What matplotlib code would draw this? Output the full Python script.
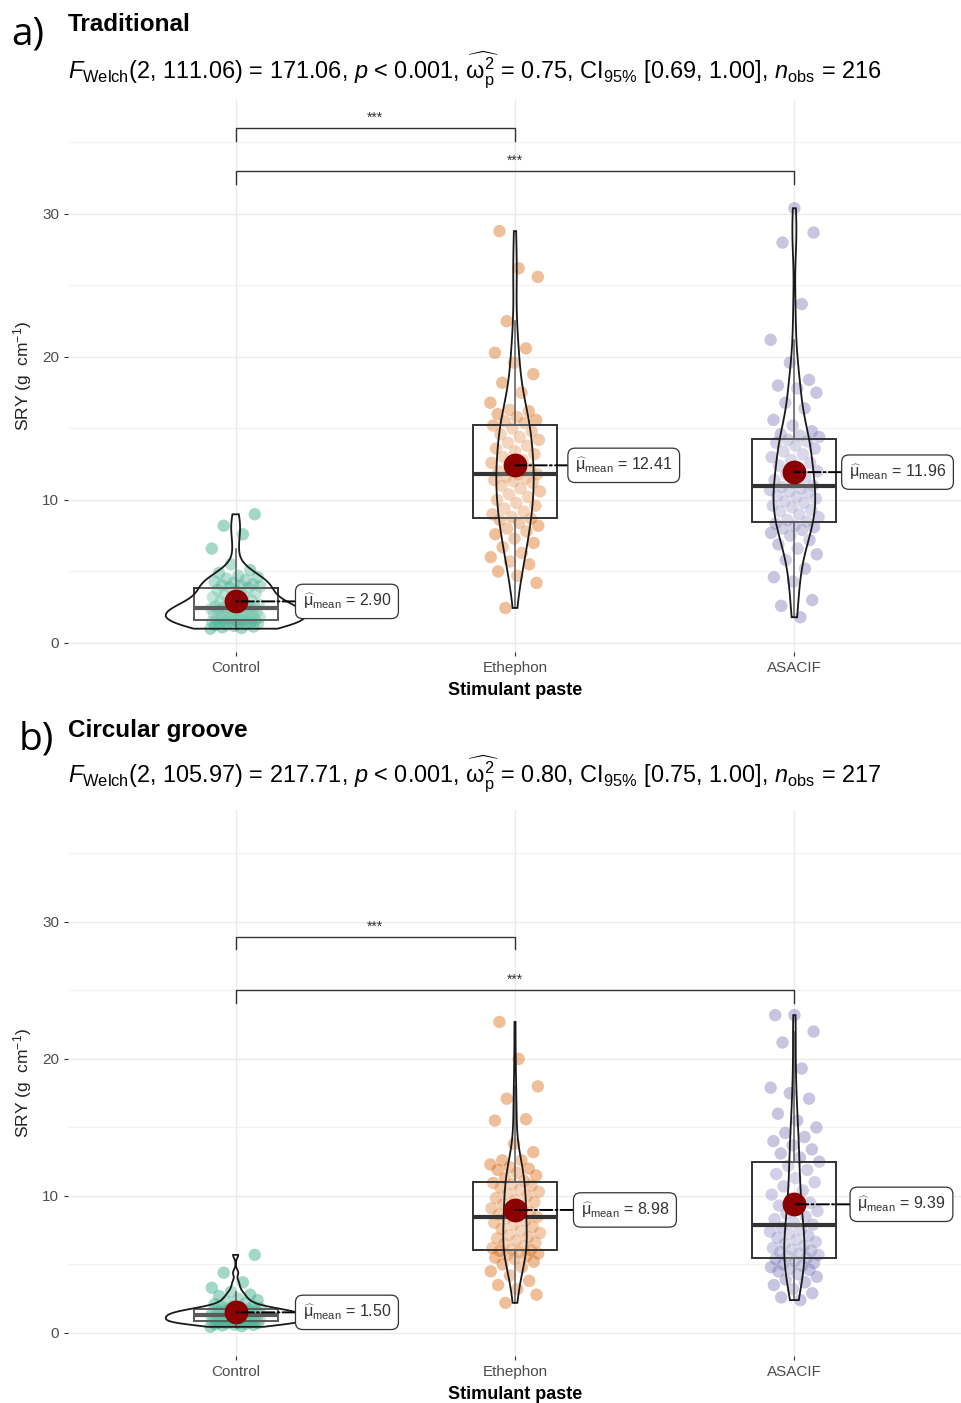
import matplotlib
matplotlib.use("Agg")
import matplotlib.pyplot as plt
import numpy as np

plt.rcParams['font.family'] = ['Liberation Sans', 'DejaVu Sans']
plt.rcParams['mathtext.fontset'] = 'custom'
plt.rcParams['mathtext.rm'] = 'Liberation Sans'
plt.rcParams['mathtext.it'] = 'Liberation Sans:italic'
plt.rcParams['mathtext.bf'] = 'Liberation Sans:bold'

# Grupos
grupos = ["Control", "Ethephon", "ASACIF"]
colores = ["#1B9E77", "#D95F02", "#7570B3"]

# a) Tradicional - SRY (g cm-1)
control_a = [1.0, 1.05, 1.1, 1.15, 1.2, 1.25, 1.3, 1.3, 1.35, 1.4, 1.4, 1.45, 1.5, 1.5, 1.55, 1.55, 1.6, 1.6,
             1.65, 1.7, 1.75, 1.8, 1.85, 1.9, 1.95, 2.0, 2.05, 2.1, 2.15, 2.2, 2.25, 2.3, 2.35, 2.4, 2.4, 2.45,
             2.45, 2.5, 2.5, 2.55, 2.6, 2.65, 2.7, 2.8, 2.9, 3.0, 3.1, 3.2, 3.3, 3.4, 3.5, 3.6, 3.7, 3.85,
             3.9, 3.95, 4.0, 4.05, 4.1, 4.2, 4.3, 4.4, 4.5, 4.6, 4.7, 4.9, 5.1, 5.5, 6.6, 7.6, 8.2, 9.0]
ethephon_a = [2.45, 4.2, 4.7, 5.0, 5.5, 5.7, 6.0, 6.3, 6.7, 7.0, 7.3, 7.6, 7.8, 8.0, 8.2, 8.4, 8.6, 8.7,
              8.8, 9.0, 9.2, 9.4, 9.6, 9.8, 10.0, 10.2, 10.4, 10.6, 10.8, 11.0, 11.2, 11.3, 11.4, 11.5, 11.6, 11.8,
              11.8, 12.0, 12.2, 12.4, 12.6, 12.8, 13.0, 13.2, 13.4, 13.6, 13.8, 14.0, 14.2, 14.4, 14.6, 14.8, 15.0, 15.2,
              15.4, 15.5, 15.6, 15.8, 16.0, 16.2, 16.3, 16.8, 17.5, 18.2, 18.8, 19.6, 20.3, 20.6, 22.5, 25.6, 26.2, 28.8]
asacif_a = [1.8, 2.6, 3.0, 4.3, 4.6, 5.2, 5.8, 6.2, 6.6, 6.9, 7.2, 7.5, 7.7, 7.9, 8.0, 8.1, 8.2, 8.35,
            8.5, 8.6, 8.8, 9.0, 9.2, 9.3, 9.5, 9.6, 9.8, 9.9, 10.1, 10.2, 10.3, 10.5, 10.6, 10.7, 10.8, 10.9,
            11.0, 11.2, 11.4, 11.6, 11.8, 12.0, 12.2, 12.4, 12.6, 12.8, 13.0, 13.2, 13.4, 13.6, 13.8, 14.0, 14.1, 14.2,
            14.4, 14.5, 14.6, 14.8, 15.2, 15.6, 16.4, 16.8, 17.5, 17.8, 18.0, 18.4, 19.6, 21.2, 23.7, 28.0, 28.7, 30.4]

# b) Surco circular
control_b = [0.45, 0.5, 0.55, 0.6, 0.62, 0.65, 0.68, 0.7, 0.72, 0.74, 0.76, 0.78, 0.8, 0.82, 0.84, 0.85, 0.86, 0.87,
             0.9, 0.92, 0.95, 0.98, 1.0, 1.02, 1.05, 1.08, 1.1, 1.12, 1.15, 1.18, 1.2, 1.22, 1.25, 1.27, 1.28, 1.3,
             1.3, 1.32, 1.35, 1.38, 1.4, 1.42, 1.45, 1.48, 1.5, 1.52, 1.55, 1.58, 1.6, 1.62, 1.65, 1.68, 1.7, 1.74,
             1.76, 1.8, 1.85, 1.9, 1.95, 2.0, 2.1, 2.2, 2.3, 2.4, 2.5, 2.7, 2.8, 3.0, 3.3, 3.7, 4.4, 5.7]
ethephon_b = [2.2, 2.8, 3.2, 3.5, 3.8, 4.2, 4.5, 4.8, 5.0, 5.2, 5.4, 5.5, 5.6, 5.7, 5.8, 5.9, 6.0, 6.05,
              6.1, 6.2, 6.35, 6.5, 6.6, 6.75, 6.9, 7.0, 7.15, 7.3, 7.45, 7.6, 7.75, 7.9, 8.05, 8.2, 8.35, 8.45,
              8.5, 8.65, 8.8, 8.95, 9.1, 9.25, 9.4, 9.55, 9.7, 9.85, 10.0, 10.15, 10.3, 10.45, 10.6, 10.75, 10.85, 10.95,
              11.1, 11.3, 11.5, 11.7, 11.9, 12.0, 12.1, 12.3, 12.6, 12.6, 13.2, 13.8, 15.5, 15.6, 17.1, 18.0, 20.0, 22.7]
asacif_b = [2.4, 2.6, 2.9, 3.2, 3.5, 3.7, 3.9, 4.1, 4.3, 4.5, 4.6, 4.7, 4.8, 4.9, 5.0, 5.1, 5.25, 5.4,
            5.47, 5.6, 5.7, 5.8, 5.9, 6.0, 6.1, 6.2, 6.35, 6.5, 6.65, 6.8, 6.95, 7.1, 7.25, 7.4, 7.55, 7.7, 7.9,
            8.1, 8.3, 8.5, 8.7, 8.9, 9.1, 9.3, 9.5, 9.8, 10.1, 10.4, 10.7, 11.0, 11.3, 11.6, 11.9, 12.2, 12.5,
            12.8, 13.1, 13.4, 13.7, 14.0, 14.3, 14.6, 15.0, 15.5, 16.0, 17.1, 17.5, 17.9, 19.3, 21.2, 22.0, 23.2, 23.2]

# Textos de las medias y estadisticos
medias_a = ["2.90", "12.41", "11.96"]
medias_b = ["1.50", "8.98", "9.39"]
sub_a = (r"$F_{\mathrm{Welch}}$(2, 111.06) = 171.06, $p$ < 0.001, "
         r"$\widehat{\mathrm{\omega}_{\mathrm{p}}^{2}}$ = 0.75, CI$_{95\%}$ [0.69, 1.00], $n_{\mathrm{obs}}$ = 216")
sub_b = (r"$F_{\mathrm{Welch}}$(2, 105.97) = 217.71, $p$ < 0.001, "
         r"$\widehat{\mathrm{\omega}_{\mathrm{p}}^{2}}$ = 0.80, CI$_{95\%}$ [0.75, 1.00], $n_{\mathrm{obs}}$ = 217")
# Comparaciones (grupo1, grupo2, altura)
comp_a = [(1, 2, 36.0), (1, 3, 33.0)]
comp_b = [(1, 2, 28.9), (1, 3, 25.0)]


def densidad(v):
    v = np.asarray(v, dtype=float)
    n = len(v)
    iqr = np.percentile(v, 75) - np.percentile(v, 25)
    bw = 0.9 * min(v.std(ddof=1), iqr / 1.34) * n ** -0.2
    ys = np.linspace(v.min(), v.max(), 512)
    d = np.exp(-0.5 * ((ys[:, None] - v[None, :]) / bw) ** 2).sum(1) / (n * bw * np.sqrt(2 * np.pi))
    return ys, d


def panel(ax, datos, medias, comps, ylim, dx_etiq):
    pos = [1, 2, 3]
    # puntos con jitter
    for k, (v, c) in enumerate(zip(datos, colores)):
        n = len(v)
        frac = (np.arange(n) * 0.618034 + k * 0.31) % 1
        xs = pos[k] + 0.09 * (2 * frac - 1)
        ax.scatter(xs, v, s=80, color=c, alpha=0.4, edgecolors='none', zorder=2)
    # cajas
    ax.boxplot(datos, positions=pos, widths=0.3, whis=1.5, showfliers=False, patch_artist=True,
               boxprops=dict(facecolor=(1, 1, 1, 0.2), edgecolor='#333333', linewidth=1.4),
               medianprops=dict(color='#333333', linewidth=3),
               whiskerprops=dict(color='#333333', linewidth=1.1),
               capprops=dict(linewidth=0), zorder=3)
    # violines (escala por area)
    dens = [densidad(v) for v in datos]
    dmax = max(d.max() for _, d in dens)
    for k, (ys, d) in enumerate(dens):
        hw = 0.25 * d / dmax
        ax.fill(np.r_[pos[k] - hw, (pos[k] + hw)[::-1]], np.r_[ys, ys[::-1]],
                facecolor=(1, 1, 1, 0.2), edgecolor='#1a1a1a', linewidth=1.3, zorder=4)
    # medias
    for k, v in enumerate(datos):
        m = np.mean(v)
        ax.scatter(pos[k], m, s=260, color='#8B0000', zorder=6)
        ax.annotate(r"$\widehat{\mathrm{\mu}}_{\mathrm{mean}}$ = " + medias[k], xy=(pos[k], m),
                    xytext=(pos[k] + dx_etiq[k], m), ha='left', va='center', fontsize=11.5, color='#333333',
                    bbox=dict(boxstyle='round,pad=0.45', fc='white', ec='#333333', lw=0.9),
                    arrowprops=dict(arrowstyle='-', linestyle='-.', color='black', lw=1.4,
                                    shrinkA=0, shrinkB=0), zorder=7)
    # corchetes de significancia
    for g1, g2, h in comps:
        ax.plot([g1, g1, g2, g2], [h - 0.9, h, h, h - 0.9], color='#333333', lw=1.0, zorder=5)
        ax.text((g1 + g2) / 2, h + 0.25, "***", ha='center', va='bottom', fontsize=10, color='#333333')

    ax.set_xlim(0.4, 3.6)
    ax.set_ylim(*ylim)
    ax.set_xticks(pos)
    ax.set_xticklabels(grupos)
    ax.set_yticks([0, 10, 20, 30])
    ax.set_yticks([5, 15, 25, 35], minor=True)
    ax.grid(True, which='major', color='#EBEBEB', lw=1.0)
    ax.grid(True, which='minor', axis='y', color='#F2F2F2', lw=0.8)
    ax.set_axisbelow(True)
    for s in ax.spines.values():
        s.set_visible(False)
    ax.tick_params(axis='both', which='major', length=3, color='#333333', labelcolor='#4D4D4D', labelsize=11)
    ax.tick_params(axis='both', which='minor', length=0)
    ax.set_ylabel(r"SRY (g  cm$^{-1}$)", fontsize=12.5, color='#222222', labelpad=6)
    ax.set_xlabel("Stimulant paste", fontsize=13, fontweight='bold', labelpad=5)


fig = plt.figure(figsize=(9.62, 14.03), dpi=100)
W, H = 962, 1403
axA = fig.add_axes([68 / W, 1 - 652 / H, 894 / W, 552 / H])
axB = fig.add_axes([68 / W, 1 - 1356 / H, 894 / W, 546 / H])

panel(axA, [control_a, ethephon_a, asacif_a], medias_a, comp_a, (-0.63, 37.97), [0.24, 0.215, 0.195])
panel(axB, [control_b, ethephon_b, asacif_b], medias_b, comp_b, (-1.68, 38.17), [0.24, 0.235, 0.225])

fig.text(11 / W, 1 - 44 / H, "a)", fontsize=28, family='Open Sans', va='baseline')
fig.text(68 / W, 1 - 31 / H, "Traditional", fontsize=17.5, fontweight='bold', va='baseline')
fig.text(68 / W, 1 - 79 / H, sub_a, fontsize=16.9, va='baseline')

fig.text(19 / W, 1 - 749 / H, "b)", fontsize=28, family='Open Sans', va='baseline')
fig.text(68 / W, 1 - 737 / H, "Circular groove", fontsize=17.5, fontweight='bold', va='baseline')
fig.text(68 / W, 1 - 783 / H, sub_b, fontsize=16.9, va='baseline')

fig.savefig("out.png", dpi=100)
